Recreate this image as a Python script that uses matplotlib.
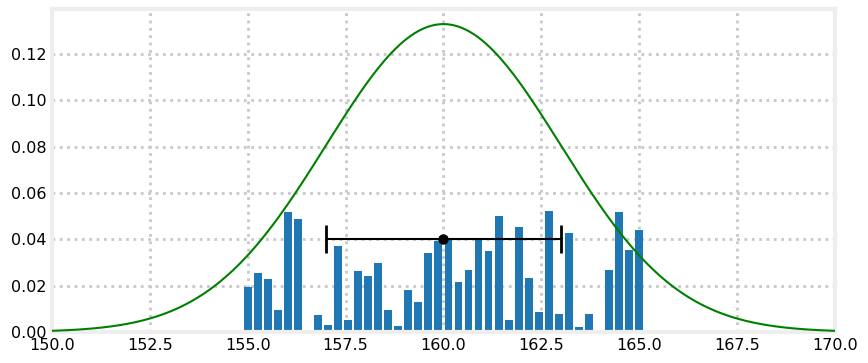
import numpy as np
import matplotlib
matplotlib.use('Agg')
import matplotlib.pyplot as plt

# bar heights (40 bars from 155 to 165)
bar_x = np.linspace(155, 165, 40)
bar_h = [0.0194, 0.0254, 0.0228, 0.0097, 0.0520, 0.0486, 0.0, 0.0072,
         0.0030, 0.0372, 0.0051, 0.0262, 0.0241, 0.0300, 0.0097, 0.0025,
         0.0182, 0.0131, 0.0342, 0.0395, 0.0400, 0.0215, 0.0266, 0.0400,
         0.0351, 0.0499, 0.0051, 0.0452, 0.0232, 0.0085, 0.0524, 0.0076,
         0.0427, 0.0021, 0.0076, 0.0, 0.0266, 0.0520, 0.0355, 0.0439]

# normal curve parameters
mu = 160
sigma = 3
point_y = 0.04

x = np.linspace(150, 170, 400)
pdf = np.exp(-0.5 * ((x - mu) / sigma) ** 2) / (sigma * np.sqrt(2 * np.pi))

fig = plt.figure(figsize=(8.68, 3.63), dpi=100)
ax = fig.add_axes([0.0601, 0.0854, 0.9015, 0.8906])

ax.bar(bar_x, bar_h, width=0.2, color='#1f77b4', zorder=2)
ax.plot(x, pdf, color='green', lw=1.5, zorder=3)
ax.errorbar(mu, point_y, xerr=sigma, fmt='o', color='black', ms=6.5,
            elinewidth=1.5, capsize=10, capthick=2, zorder=4)

ax.set_xlim(150, 170)
ax.set_ylim(0, pdf.max() * 1.05)
ax.set_xticks(np.arange(150, 170.1, 2.5))
ax.set_yticks(np.arange(0, 0.121, 0.02))
ax.set_xticklabels([f'{v:.1f}' for v in np.arange(150, 170.1, 2.5)])
ax.set_yticklabels([f'{v:.2f}' for v in np.arange(0, 0.121, 0.02)])

ax.grid(True, linestyle=':', color='#c8c8c8', lw=2, zorder=0)
ax.set_axisbelow(True)
for s in ax.spines.values():
    s.set_color('#eeeeee')
    s.set_linewidth(3)
ax.tick_params(length=0, labelsize=11.5, pad=4)

fig.savefig('out.png', dpi=100)
